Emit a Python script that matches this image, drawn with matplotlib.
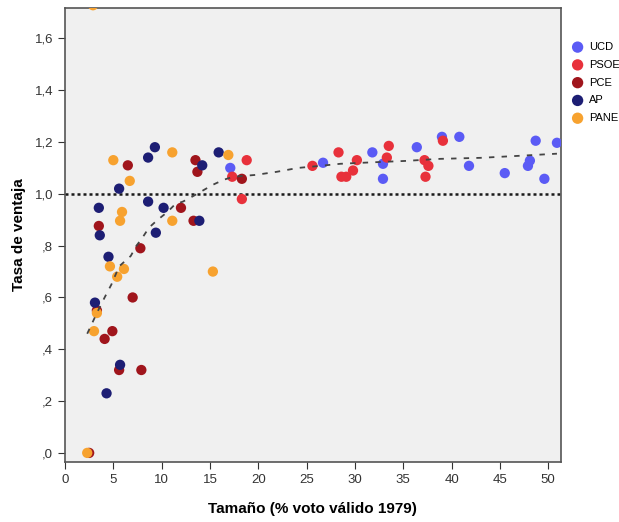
import matplotlib
matplotlib.use("Agg")
import matplotlib.pyplot as plt
from matplotlib.ticker import FuncFormatter

plt.rcParams["font.family"] = ["Liberation Sans", "DejaVu Sans"]

# party: (x = tamaño %, y = tasa de ventaja)
ucd_x = [17.1, 26.7, 31.8, 32.9, 32.9, 36.4, 39.0, 40.8, 41.8, 45.5, 48.1, 47.9, 48.7, 49.6, 50.9]
ucd_y = [1.10, 1.12, 1.16, 1.116, 1.058, 1.18, 1.22, 1.22, 1.108, 1.08, 1.128, 1.108, 1.205, 1.058, 1.197]

psoe_x = [18.8, 17.3, 18.3, 25.6, 28.3, 28.6, 29.1, 29.8, 30.2, 33.3, 33.5, 37.2, 37.6, 37.3, 39.1]
psoe_y = [1.13, 1.066, 0.98, 1.108, 1.16, 1.066, 1.066, 1.09, 1.13, 1.14, 1.185, 1.13, 1.108, 1.066, 1.205]

pce_x = [6.5, 13.5, 13.7, 18.3, 12.0, 13.3, 3.5, 7.8, 7.0, 3.3, 4.9, 4.1, 5.6, 7.9, 2.5]
pce_y = [1.11, 1.13, 1.085, 1.058, 0.946, 0.896, 0.876, 0.79, 0.60, 0.55, 0.47, 0.44, 0.32, 0.32, 0.0]

ap_x = [8.6, 9.3, 14.2, 15.9, 5.6, 8.6, 3.5, 10.2, 13.9, 3.6, 9.4, 4.5, 3.1, 5.7, 4.3]
ap_y = [1.14, 1.18, 1.11, 1.16, 1.02, 0.97, 0.946, 0.946, 0.896, 0.84, 0.85, 0.757, 0.58, 0.34, 0.23]

pane_x = [2.9, 5.0, 6.7, 11.1, 16.9, 5.9, 5.7, 11.1, 4.65, 6.1, 5.4, 15.3, 3.3, 3.0, 2.3]
pane_y = [1.728, 1.13, 1.05, 1.16, 1.15, 0.93, 0.896, 0.896, 0.72, 0.71, 0.68, 0.70, 0.54, 0.47, 0.0]

# fitted curve
fit_x = [2.3, 3.3, 4.1, 4.8, 5.6, 6.8, 7.4, 8.0, 8.7, 9.6, 10.6, 11.4, 12.2, 13.2,
         15.3, 16.4, 17.4, 19.7, 21.9, 24.1, 26.4, 28.5, 30.8, 33.3, 35.2, 38.8,
         43.0, 47.1, 50.9]
fit_y = [0.46, 0.54, 0.60, 0.65, 0.72, 0.76, 0.80, 0.83, 0.87, 0.90, 0.93, 0.96, 0.97, 0.99,
         1.035, 1.054, 1.066, 1.073, 1.085, 1.10, 1.108, 1.116, 1.12, 1.124, 1.127, 1.135,
         1.139, 1.147, 1.155]

parties = ["UCD", "PSOE", "PCE", "AP", "PANE"]
colors = ["#5b5bf5", "#e8313b", "#a0151c", "#1d1e74", "#f7a22f"]
series = [(ucd_x, ucd_y), (psoe_x, psoe_y), (pce_x, pce_y), (ap_x, ap_y), (pane_x, pane_y)]


def fmt(v, pos):
    s = f"{v:.1f}".replace(".", ",")
    if s.startswith("0"):
        s = s[1:]
    return s


fig = plt.figure(figsize=(6.19, 5.22), dpi=100)
ax = fig.add_axes([0.105, 0.115, 0.801, 0.870])
ax.set_facecolor("#f0f0f0")

for name, col, (xs, ys) in zip(parties, colors, series):
    ax.scatter(xs, ys, s=55, color=col, label=name, edgecolors="none", zorder=3)

ax.axhline(1.0, color="#1a1a1a", linestyle=(0, (1.2, 1.2)), linewidth=1.8, zorder=2)
ax.plot(fit_x, fit_y, color="#444444", linestyle=(0, (3, 4)), linewidth=1.3, zorder=4)

ax.set_xlim(0, 51.3)
ax.set_ylim(-0.035, 1.718)
ax.set_xticks(range(0, 51, 5))
ax.set_yticks([0, 0.2, 0.4, 0.6, 0.8, 1.0, 1.2, 1.4, 1.6])
ax.yaxis.set_major_formatter(FuncFormatter(fmt))
ax.tick_params(labelsize=9.5, colors="#333333", length=5)

for sp in ax.spines.values():
    sp.set_color("#555555")
    sp.set_linewidth(1.2)

ax.set_xlabel("Tamaño (% voto válido 1979)", fontsize=11, fontweight="bold", labelpad=12)
ax.set_ylabel("Tasa de ventaja", fontsize=11, fontweight="bold", labelpad=6)

fig.legend(loc="upper left", bbox_to_anchor=(0.908, 0.928), frameon=False,
           fontsize=8, handletextpad=0.05, labelspacing=0.7, markerscale=1.1,
           borderaxespad=0)

fig.savefig("out.png", dpi=100)
